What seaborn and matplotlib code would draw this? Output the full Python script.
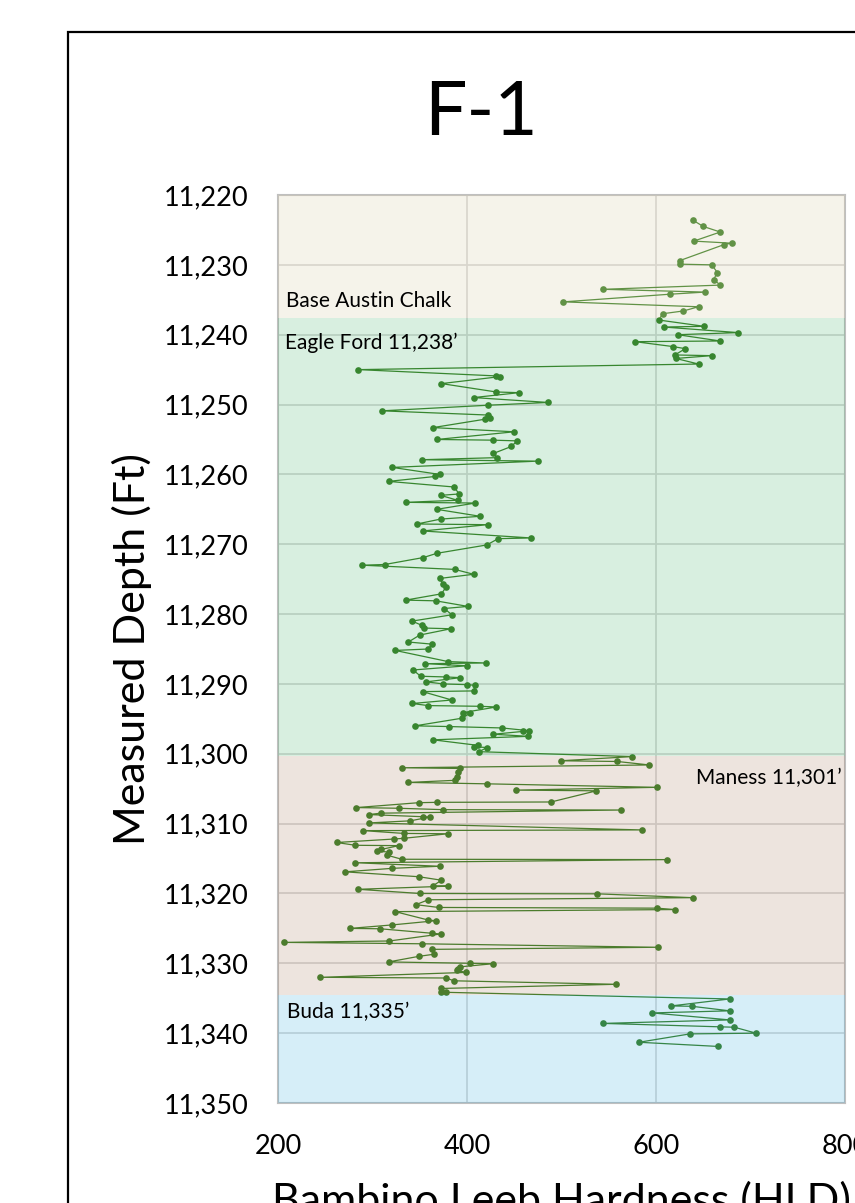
import matplotlib
matplotlib.use("Agg")
import matplotlib.pyplot as plt
from matplotlib.patches import Rectangle
from matplotlib.ticker import FuncFormatter
import pandas as pd
import seaborn as sns

depth = [
    11223.6, 11224.5, 11225.3, 11226.6, 11226.9, 11227.1, 11229.4, 11229.9, 11230.0, 11231.1,
    11232.1, 11232.9, 11233.5, 11233.9, 11234.2, 11235.3, 11236.0, 11236.6, 11237.0, 11237.9,
    11238.8, 11238.9, 11239.7, 11240.0, 11240.9, 11241.0, 11241.7, 11242.0, 11242.9, 11243.0,
    11243.4, 11244.2, 11245.0, 11245.9, 11246.0, 11247.0, 11248.2, 11248.3, 11249.0, 11249.7,
    11250.1, 11250.9, 11251.5, 11251.9, 11252.1, 11253.3, 11253.9, 11255.0, 11255.1, 11255.2,
    11256.0, 11257.0, 11257.6, 11257.9, 11258.1, 11259.0, 11260.0, 11260.3, 11261.0, 11261.8,
    11262.8, 11263.0, 11263.7, 11264.0, 11264.1, 11265.0, 11266.0, 11266.4, 11267.1, 11267.2,
    11268.1, 11269.1, 11269.2, 11270.1, 11271.3, 11271.9, 11272.9, 11273.0, 11273.6, 11274.3,
    11274.9, 11275.7, 11276.1, 11277.1, 11278.0, 11278.1, 11278.9, 11279.2, 11280.1, 11281.0,
    11281.6, 11282.0, 11282.1, 11283.0, 11284.0, 11284.3, 11285.0, 11285.2, 11286.8, 11287.0,
    11287.1, 11287.4, 11288.0, 11288.9, 11289.0, 11289.1, 11289.7, 11290.0, 11290.1, 11290.2,
    11291.0, 11291.1, 11292.3, 11292.8, 11293.1, 11293.2, 11293.3, 11294.1, 11294.2, 11294.9,
    11296.0, 11296.1, 11296.3, 11296.7, 11296.8, 11297.2, 11297.5, 11298.0, 11298.8, 11299.0,
    11299.1, 11299.7,
    11300.4, 11301.0, 11301.1, 11301.6, 11302.0, 11302.1, 11302.6, 11303.3, 11303.8, 11304.1,
    11304.3, 11304.8, 11305.2, 11305.3, 11306.9, 11306.95, 11307.0, 11307.7, 11307.8, 11308.0,
    11308.05, 11308.5, 11308.7, 11309.0, 11309.05, 11309.6, 11309.9, 11310.9, 11311.0, 11311.4,
    11311.45, 11312.1, 11312.2, 11312.7, 11313.1, 11313.15, 11313.7, 11313.9, 11314.1, 11314.5,
    11315.1, 11315.15, 11315.6, 11316.1, 11316.4, 11316.9, 11317.6, 11318.1, 11318.9, 11318.95,
    11319.4, 11320.0, 11320.05, 11320.6, 11320.9, 11321.6, 11322.0, 11322.1, 11322.3, 11322.6,
    11323.8, 11323.9, 11324.5, 11325.0, 11325.05, 11325.7, 11325.8, 11326.8, 11327.0, 11327.2,
    11327.7, 11328.0, 11328.7, 11329.0, 11329.8, 11330.0, 11330.05, 11330.5, 11330.8, 11331.0,
    11331.3, 11332.0, 11332.1, 11332.5, 11333.0, 11333.6, 11334.1, 11334.15,
    11335.1, 11336.1, 11336.15, 11336.8, 11337.1, 11338.1, 11338.6, 11339.1, 11339.15, 11340.0,
    11340.1, 11341.3, 11341.9,
]
hld = [
    639, 650, 668, 640, 680, 672, 625, 625, 659, 665,
    661, 668, 544, 652, 615, 502, 645, 629, 607, 603,
    651, 608, 687, 623, 668, 578, 618, 631, 620, 659,
    621, 645, 285, 431, 435, 373, 431, 455, 407, 486,
    422, 310, 422, 424, 419, 364, 450, 368, 428, 453,
    447, 428, 432, 352, 475, 321, 371, 366, 317, 386,
    392, 372, 390, 335, 409, 368, 414, 372, 347, 422,
    353, 468, 433, 421, 368, 354, 313, 289, 387, 407,
    371, 375, 378, 373, 335, 367, 401, 376, 384, 342,
    352, 355, 383, 350, 338, 363, 359, 324, 380, 420,
    356, 400, 343, 351, 378, 393, 357, 375, 400, 409,
    407, 353, 384, 342, 359, 414, 431, 396, 403, 395,
    345, 381, 437, 466, 459, 428, 465, 364, 412, 407,
    421, 413,
    575, 499, 559, 593, 331, 393, 391, 389, 387, 338,
    421, 601, 452, 537, 489, 368, 349, 283, 328, 375,
    563, 309, 296, 354, 361, 340, 296, 585, 290, 333,
    380, 333, 323, 262, 282, 328, 309, 305, 318, 315,
    331, 612, 282, 371, 321, 271, 349, 373, 364, 380,
    285, 350, 538, 639, 359, 346, 370, 601, 620, 324,
    359, 367, 321, 276, 308, 363, 372, 318, 206, 352,
    602, 363, 365, 349, 317, 403, 428, 393, 390, 389,
    399, 245, 378, 386, 558, 372, 372, 378,
    678, 616, 638, 678, 596, 678, 544, 668, 683, 706,
    636, 582, 666,
]

# formation intervals (top, base) and labels
zone_tops = [11220, 11237.6, 11300.3, 11334.6]
zone_bases = [11237.6, 11300.3, 11334.6, 11350]
zone_colors = ["#dcd1ae", "#3caf64", "#a5785a", "#32aadc"]
zone_alpha = [0.26, 0.2, 0.2, 0.2]
zone_labels = ["Base Austin Chalk", "Eagle Ford 11,238\u2019", "Maness 11,301\u2019", "Buda 11,335\u2019"]

sns.set_style("white")
plt.rcParams["font.family"] = ["Lato", "DejaVu Sans"]
plt.rcParams["text.color"] = "black"
plt.rcParams["axes.labelcolor"] = "black"
plt.rcParams["xtick.color"] = "black"
plt.rcParams["ytick.color"] = "black"

fig = plt.figure(figsize=(8.55, 12.03), dpi=100)
ax = fig.add_axes([0.3251, 0.0831, 0.6632, 0.7548])

df = pd.DataFrame({"depth": depth, "hld": hld})
sns.lineplot(data=df, x="hld", y="depth", sort=False, estimator=None,
             marker="o", markersize=4.8, markeredgewidth=0,
             color="#377d23", linewidth=0.9, ax=ax)

# translucent formation bands laid over the log
for top, base, c, a in zip(zone_tops, zone_bases, zone_colors, zone_alpha):
    ax.axhspan(top, base, color=c, alpha=a, lw=0, zorder=3)

ax.text(209, 11235.2, zone_labels[0], fontsize=15, va="center", zorder=5)
ax.text(207, 11241.2, zone_labels[1], fontsize=15, va="center", zorder=5)
ax.text(797, 11303.5, zone_labels[2], fontsize=15, va="center", ha="right", zorder=5)
ax.text(210, 11337.0, zone_labels[3], fontsize=15, va="center", zorder=5)

ax.set_xlim(200, 800)
ax.set_ylim(11350, 11220)
ax.set_xticks([200, 400, 600, 800])
ax.set_yticks(range(11220, 11351, 10))
ax.yaxis.set_major_formatter(FuncFormatter(lambda v, p: f"{v:,.0f}"))
ax.tick_params(axis="both", length=0, labelsize=19.5)
ax.tick_params(axis="y", pad=21)
ax.tick_params(axis="x", pad=22)
ax.grid(True, color="#d9d9d9", lw=1.3)
ax.set_axisbelow(True)
for s in ax.spines.values():
    s.set_color("#bfbfbf")
    s.set_linewidth(1.5)

ax.set_xlabel("")
ax.set_ylabel("Measured Depth (Ft)", fontsize=31)
ax.yaxis.set_label_coords(-0.222, 0.5)

fig.text(481 / 855, 1 - 135 / 1203, "F-1", fontsize=54, ha="center", va="baseline")
fig.text(561 / 855, 1 - 1214 / 1203, "Bambino Leeb Hardness (HLD)", fontsize=31,
         ha="center", va="baseline")

# outer chart frame (cropped at right and bottom)
fig.add_artist(Rectangle((68 / 855, -0.1), 1.2, 1 - 32 / 1203 + 0.1,
                         transform=fig.transFigure, fill=False, ec="black", lw=1.6))

fig.savefig("out.png", dpi=100)
